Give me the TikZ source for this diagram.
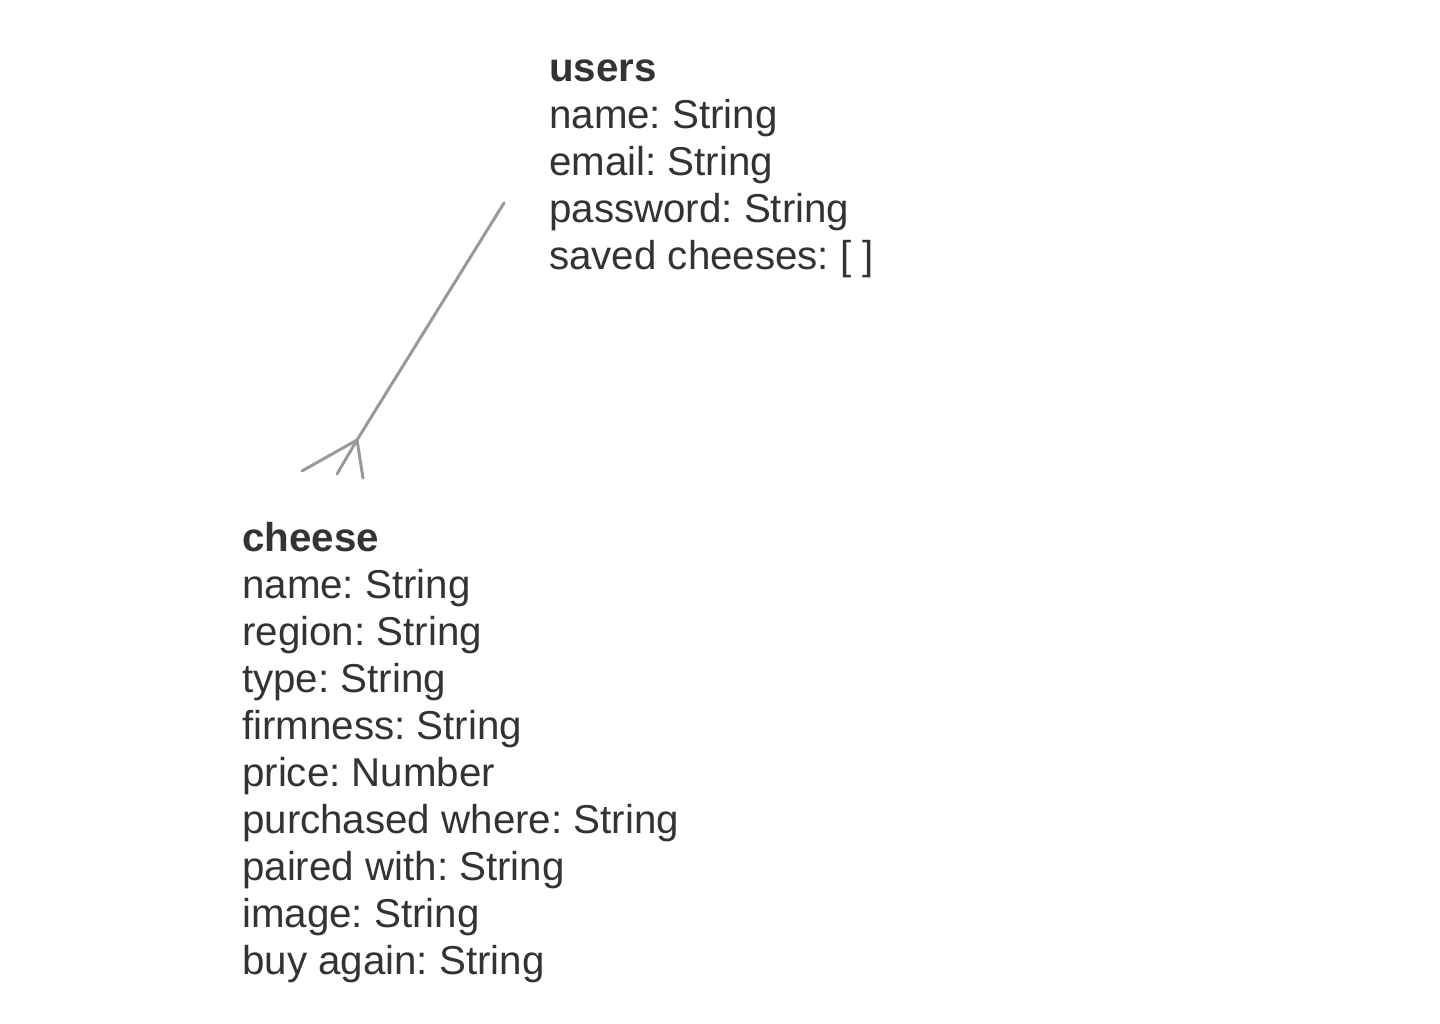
\documentclass[tikz,border=0pt]{standalone}
\usepackage{fontspec}
\setmainfont{Liberation Sans}
\definecolor{txt}{HTML}{333333}
\definecolor{ln}{HTML}{999999}
\begin{document}
\frenchspacing
\begin{tikzpicture}[x=1pt,y=-1pt,
  entity/.style={anchor=base west, inner sep=0pt, text=txt, font=\fontsize{40.3}{47}\selectfont\frenchspacing},
  rel/.style={draw=ln, line width=3pt, line cap=round}]
\useasboundingbox (0,0) rectangle (1440,1024);
\node[entity] (users) at (549,82) {\begin{tabular}[t]{@{}l@{}}\textbf{users}\\
name: String\\
email: String\\
password: String\\
saved cheeses: [ ]\end{tabular}};
\node[entity] (cheese) at (242,551.5) {\begin{tabular}[t]{@{}l@{}}\textbf{cheese}\\
name: String\\
region: String\\
type: String\\
firmness: String\\
price: Number\\
purchased where: String\\
paired with: String\\
image: String\\
buy again: String\end{tabular}};
\coordinate (uend) at (504,203);
\coordinate (foot) at (357,440);
\coordinate (f1) at (302,471);
\coordinate (f2) at (337,474);
\coordinate (f3) at (363,478);
\draw[rel] (uend) -- (foot);
\draw[rel] (foot) -- (f1);
\draw[rel] (foot) -- (f2);
\draw[rel] (foot) -- (f3);
\end{tikzpicture}
\end{document}
